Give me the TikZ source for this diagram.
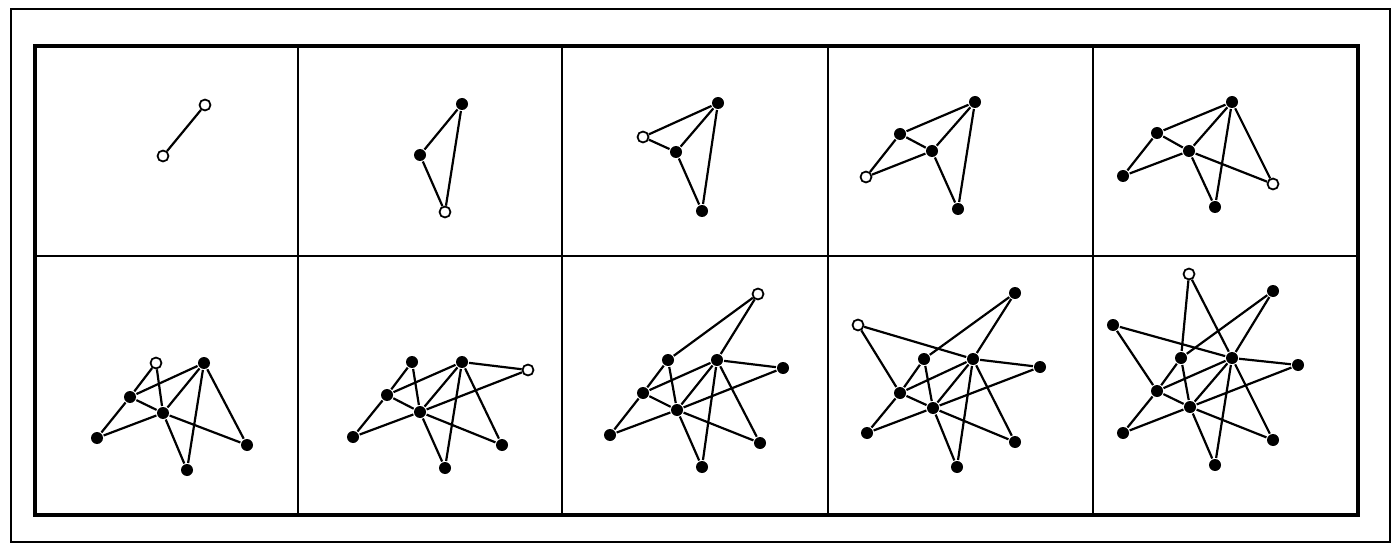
\documentclass[tikz,border=0pt]{standalone}
\begin{document}
\begin{tikzpicture}[x=0.02cm,y=-0.02cm,line width=1.25pt,
  fulldot/.style={circle,fill,inner sep=0pt,minimum size=0.24cm},
  opendot/.style={circle,draw,fill=white,line width=1pt,inner sep=0pt,minimum size=0.22cm}]
\useasboundingbox (0,0) rectangle (1399,547);
% frame and grid
\draw[line width=1.4pt] (11,9) rectangle (1390,542);
\draw[line width=1.8pt] (35,46) rectangle (1358,515);
\draw[line width=1.6pt] (35,256) -- (1358,256);
\draw[line width=1.6pt] (298,46) -- (298,515) (562,46) -- (562,515)
  (828,46) -- (828,515) (1093,46) -- (1093,515);
% panel 1
\path node[opendot] (T1) at (205,105) {}
node[opendot] (C1) at (163,156) {}
;
\draw (T1) -- (C1);
% panel 2
\path node[fulldot] (T2) at (462,104) {}
node[fulldot] (C2) at (420,155) {}
node[opendot] (B2) at (445,212) {}
;
\draw (T2) -- (C2);
\draw (B2) -- (T2); \draw (B2) -- (C2);
% panel 3
\path node[fulldot] (T3) at (718,103) {}
node[opendot] (L3) at (643,137) {}
node[fulldot] (C3) at (676,152) {}
node[fulldot] (B3) at (702,211) {}
;
\draw (T3) -- (C3);
\draw (B3) -- (T3); \draw (B3) -- (C3);
\draw (L3) -- (T3); \draw (L3) -- (C3);
% panel 4
\path node[fulldot] (T4) at (975,102) {}
node[fulldot] (L4) at (900,134) {}
node[fulldot] (C4) at (932,151) {}
node[opendot] (W4) at (866,177) {}
node[fulldot] (B4) at (958,209) {}
;
\draw (T4) -- (C4);
\draw (B4) -- (T4); \draw (B4) -- (C4);
\draw (L4) -- (T4); \draw (L4) -- (C4);
\draw (W4) -- (L4); \draw (W4) -- (C4);
% panel 5
\path node[fulldot] (T5) at (1232,102) {}
node[fulldot] (L5) at (1157,133) {}
node[fulldot] (C5) at (1189,151) {}
node[fulldot] (W5) at (1123,176) {}
node[fulldot] (B5) at (1215,207) {}
node[opendot] (R5) at (1273,184) {}
;
\draw (T5) -- (C5);
\draw (B5) -- (T5); \draw (B5) -- (C5);
\draw (L5) -- (T5); \draw (L5) -- (C5);
\draw (W5) -- (L5); \draw (W5) -- (C5);
\draw (R5) -- (C5); \draw (R5) -- (T5);
% panel 6
\path node[opendot] (E6) at (156,363) {}
node[fulldot] (T6) at (204,363) {}
node[fulldot] (L6) at (130,397) {}
node[fulldot] (C6) at (163,413) {}
node[fulldot] (W6) at (97,438) {}
node[fulldot] (B6) at (187,470) {}
node[fulldot] (R6) at (247,445) {}
;
\draw (T6) -- (C6);
\draw (B6) -- (T6); \draw (B6) -- (C6);
\draw (L6) -- (T6); \draw (L6) -- (C6);
\draw (W6) -- (L6); \draw (W6) -- (C6);
\draw (R6) -- (C6); \draw (R6) -- (T6);
\draw (E6) -- (L6); \draw (E6) -- (C6);
% panel 7
\path node[fulldot] (E7) at (412,362) {}
node[fulldot] (T7) at (462,362) {}
node[opendot] (F7) at (528,370) {}
node[fulldot] (L7) at (387,395) {}
node[fulldot] (C7) at (420,412) {}
node[fulldot] (W7) at (353,437) {}
node[fulldot] (B7) at (445,468) {}
node[fulldot] (R7) at (502,445) {}
;
\draw (T7) -- (C7);
\draw (B7) -- (T7); \draw (B7) -- (C7);
\draw (L7) -- (T7); \draw (L7) -- (C7);
\draw (W7) -- (L7); \draw (W7) -- (C7);
\draw (R7) -- (C7); \draw (R7) -- (T7);
\draw (E7) -- (L7); \draw (E7) -- (C7);
\draw (F7) -- (T7); \draw (F7) -- (C7);
% panel 8
\path node[opendot] (G8) at (758,294) {}
node[fulldot] (E8) at (668,360) {}
node[fulldot] (T8) at (717,360) {}
node[fulldot] (F8) at (783,368) {}
node[fulldot] (L8) at (643,393) {}
node[fulldot] (C8) at (677,410) {}
node[fulldot] (W8) at (610,435) {}
node[fulldot] (B8) at (702,467) {}
node[fulldot] (R8) at (760,443) {}
;
\draw (T8) -- (C8);
\draw (B8) -- (T8); \draw (B8) -- (C8);
\draw (L8) -- (T8); \draw (L8) -- (C8);
\draw (W8) -- (L8); \draw (W8) -- (C8);
\draw (R8) -- (C8); \draw (R8) -- (T8);
\draw (E8) -- (L8); \draw (E8) -- (C8);
\draw (F8) -- (T8); \draw (F8) -- (C8);
\draw (G8) -- (E8); \draw (G8) -- (T8);
% panel 9
\path node[opendot] (H9) at (858,325) {}
node[fulldot] (G9) at (1015,293) {}
node[fulldot] (E9) at (924,359) {}
node[fulldot] (T9) at (973,359) {}
node[fulldot] (F9) at (1040,367) {}
node[fulldot] (L9) at (900,393) {}
node[fulldot] (C9) at (933,408) {}
node[fulldot] (W9) at (867,433) {}
node[fulldot] (B9) at (957,467) {}
node[fulldot] (R9) at (1015,442) {}
;
\draw (T9) -- (C9);
\draw (B9) -- (T9); \draw (B9) -- (C9);
\draw (L9) -- (T9); \draw (L9) -- (C9);
\draw (W9) -- (L9); \draw (W9) -- (C9);
\draw (R9) -- (C9); \draw (R9) -- (T9);
\draw (E9) -- (L9); \draw (E9) -- (C9);
\draw (F9) -- (T9); \draw (F9) -- (C9);
\draw (G9) -- (E9); \draw (G9) -- (T9);
\draw (H9) -- (L9); \draw (H9) -- (T9);
% panel 10
\path node[opendot] (I10) at (1189,274) {}
node[fulldot] (H10) at (1113,325) {}
node[fulldot] (G10) at (1273,291) {}
node[fulldot] (F10) at (1298,365) {}
node[fulldot] (T10) at (1232,358) {}
node[fulldot] (E10) at (1181,358) {}
node[fulldot] (L10) at (1157,391) {}
node[fulldot] (C10) at (1190,407) {}
node[fulldot] (W10) at (1123,433) {}
node[fulldot] (B10) at (1215,465) {}
node[fulldot] (R10) at (1273,440) {}
;
\draw (T10) -- (C10);
\draw (B10) -- (T10); \draw (B10) -- (C10);
\draw (L10) -- (T10); \draw (L10) -- (C10);
\draw (W10) -- (L10); \draw (W10) -- (C10);
\draw (R10) -- (C10); \draw (R10) -- (T10);
\draw (E10) -- (L10); \draw (E10) -- (C10);
\draw (F10) -- (T10); \draw (F10) -- (C10);
\draw (G10) -- (E10); \draw (G10) -- (T10);
\draw (H10) -- (L10); \draw (H10) -- (T10);
\draw (I10) -- (E10); \draw (I10) -- (T10);
\end{tikzpicture}
\end{document}
